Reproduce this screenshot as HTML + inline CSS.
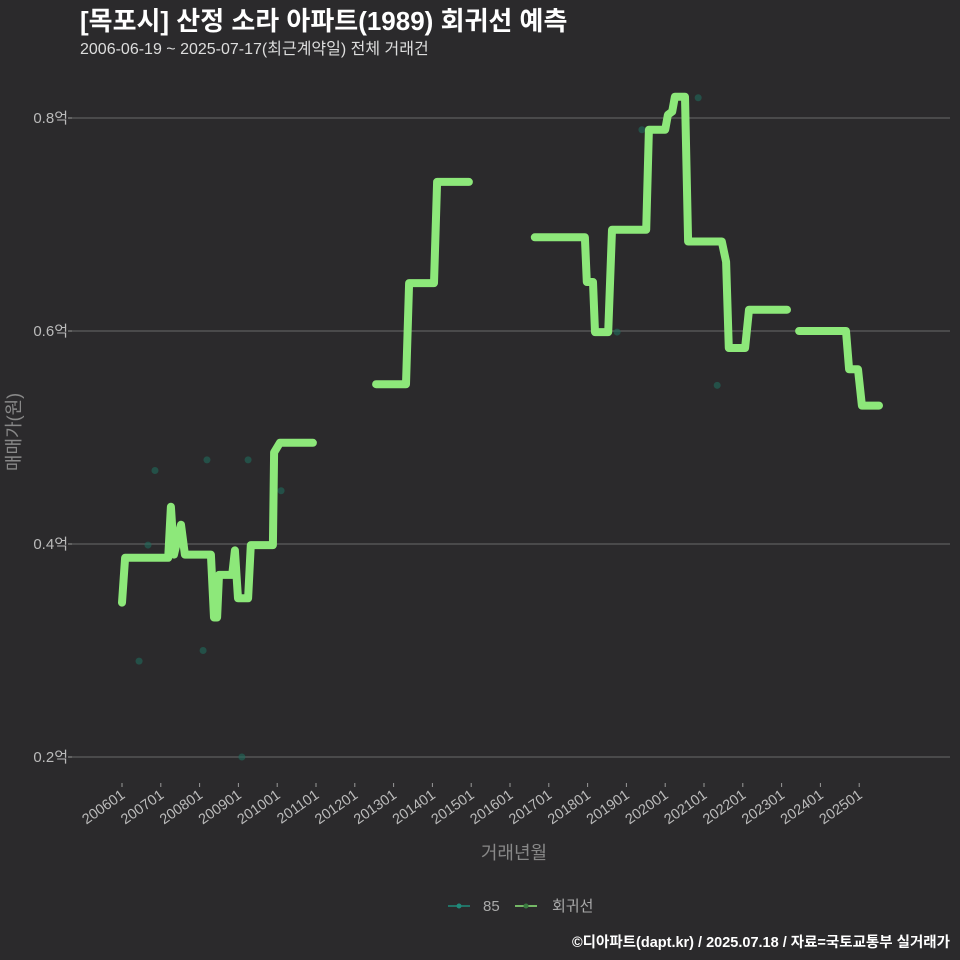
<!DOCTYPE html>
<html><head><meta charset="utf-8"><style>
body{margin:0;background:#2b2a2c;overflow:hidden;}
svg text{font-family:"Liberation Sans","Noto Sans CJK KR",sans-serif;}
</style></head><body>
<svg id="c" width="960" height="960" xmlns="http://www.w3.org/2000/svg" style="display:block">
<rect width="960" height="960" fill="#2b2a2c"/>
<text x="80" y="30" fill="#fff" font-size="26" font-weight="bold">[목포시] 산정 소라 아파트(1989) 회귀선 예측</text>
<text x="80" y="54" fill="#ddd" font-size="16">2006-06-19 ~ 2025-07-17(최근계약일) 전체 거래건</text>
<g id="grid"></g><g id="yl"></g><g id="xl"></g><g id="pts"></g><g id="lines"></g>
<text transform="translate(20,432) rotate(-90)" text-anchor="middle" fill="#888" font-size="18">매매가(원)</text>
<text x="514" y="859" text-anchor="middle" fill="#888" font-size="18">거래년월</text>
<g>
<g><line x1="448" y1="906" x2="470" y2="906" stroke="#1f8a7a" stroke-width="1.5"/><circle cx="459" cy="906" r="2.5" fill="#1f8a7a"/><text x="483" y="911" fill="#aaa" font-size="15">85</text></g>
<g><line x1="515" y1="906" x2="537" y2="906" stroke="#8de87a" stroke-width="1.5"/><circle cx="526" cy="906" r="2.5" fill="#3a7a40"/><text x="552" y="911" fill="#aaa" font-size="15">회귀선</text></g>
</g>
<text x="950" y="947" text-anchor="end" fill="#fff" font-size="14.5" font-weight="bold">©디아파트(dapt.kr) / 2025.07.18 / 자료=국토교통부 실거래가</text>
</svg>
<script>
const yTicks=[0.2,0.4,0.6,0.8];
const yTickLabels=["0.2억","0.4억","0.6억","0.8억"];
const xTickYears=[2006,2007,2008,2009,2010,2011,2012,2013,2014,2015,2016,2017,2018,2019,2020,2021,2022,2023,2024,2025];
const xTickLabels=["200601","200701","200801","200901","201001","201101","201201","201301","201401","201501","201601","201701","201801","201901","202001","202101","202201","202301","202401","202501"];
const seg1T=[0,0.08,1.19,1.26,1.34,1.52,1.62,2.29,2.37,2.45,2.50,2.84,2.91,2.99,3.25,3.32,3.89,3.92,4.07,4.92];
const seg1V=[0.345,0.387,0.387,0.435,0.390,0.418,0.390,0.390,0.331,0.331,0.371,0.371,0.394,0.349,0.349,0.399,0.399,0.486,0.495,0.495];
const seg2T=[6.55,7.32,7.40,8.04,8.12,8.94];
const seg2V=[0.550,0.550,0.645,0.645,0.740,0.740];
const seg3T=[10.64,11.93,11.98,12.14,12.19,12.53,12.63,13.51,13.58,14.0,14.07,14.18,14.25,14.51,14.59,15.46,15.57,15.64,16.06,16.16,17.14];
const seg3V=[0.688,0.688,0.646,0.646,0.599,0.599,0.695,0.695,0.789,0.789,0.803,0.806,0.820,0.820,0.684,0.684,0.665,0.584,0.584,0.620,0.620];
const seg4T=[17.45,18.66,18.74,18.97,19.07,19.51];
const seg4V=[0.600,0.600,0.564,0.564,0.530,0.530];
const ptT=[0.44,0.67,0.85,2.09,2.19,3.25,3.09,4.10,13.4,14.85,15.34,12.76];
const ptV=[0.290,0.399,0.469,0.300,0.479,0.479,0.200,0.450,0.789,0.819,0.549,0.599];
const NS="http://www.w3.org/2000/svg";
const X=t=>122+t*38.8;
const Y=v=>757-(v-0.2)*1065;
function mk(tag,attrs,parent){const e=document.createElementNS(NS,tag);for(const k in attrs)e.setAttribute(k,attrs[k]);parent.appendChild(e);return e;}
const grid=document.getElementById('grid'),yl=document.getElementById('yl'),xl=document.getElementById('xl');
yTicks.forEach((v,i)=>{
 const l=mk('line',{x1:72,x2:950,y1:Y(v),y2:Y(v),stroke:'#6a6a6a','stroke-width':1},grid);
 
 
 const tk=mk('line',{x1:68,x2:72,y1:Y(v),y2:Y(v),stroke:'#999'},grid);
 
 
 const t=mk('text',{x:68,y:Y(v)+5,'text-anchor':'end',fill:'#bbb','font-size':15},yl);
 t.textContent=yTickLabels[i];
 
 
});
xTickYears.forEach((yr,i)=>{
 const x=X(yr-2006);
 const tk=mk('line',{x1:x,x2:x,y1:783,y2:787,stroke:'#999'},grid);
 
 
 const t=mk('text',{transform:`translate(${x+4},${797}) rotate(-35)`,'text-anchor':'end',fill:'#bbb','font-size':14.5},xl);
 t.textContent=xTickLabels[i];
 
 
});
const pts=document.getElementById('pts');
ptT.forEach((t,i)=>{
 const c=mk('circle',{cx:X(t),cy:Y(ptV[i]),r:3.5,fill:'#1f6a5c','fill-opacity':0.6},pts);
 
 
});
const lines=document.getElementById('lines');
[[seg1T,seg1V],[seg2T,seg2V],[seg3T,seg3V],[seg4T,seg4V]].forEach(([ts,vs],k)=>{
 const d=ts.map((t,i)=>(i?'L':'M')+X(t).toFixed(1)+','+Y(vs[i]).toFixed(1)).join('');
 const p=mk('path',{d:d,fill:'none',stroke:'#8de87a','stroke-width':8,'stroke-linecap':'round','stroke-linejoin':'round'},lines);
 
 
});
</script>
</body></html>
